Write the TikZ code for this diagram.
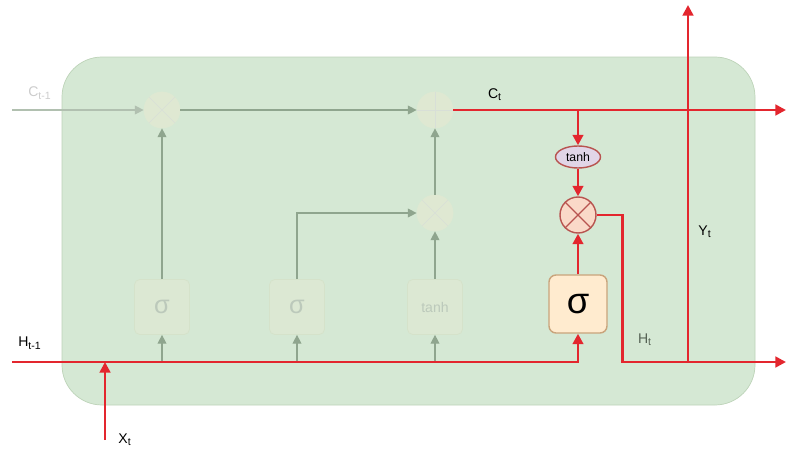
\documentclass[tikz,border=0pt]{standalone}
\usepackage{fontspec}
\setmainfont{Liberation Sans}
\usetikzlibrary{arrows.meta,shapes.geometric}

\definecolor{cellgreen}{HTML}{D5E8D4}
\definecolor{cellborder}{HTML}{BDD3B8}
\definecolor{lstmred}{HTML}{E3262E}
\definecolor{fadeline}{HTML}{8FA58E}
\definecolor{fadefill}{HTML}{DFE8D2}
\definecolor{opfill}{HTML}{FAD9C8}
\definecolor{opborder}{HTML}{B85450}
\definecolor{gatefill}{HTML}{FFEBCF}
\definecolor{gateborder}{HTML}{C9A47C}
\definecolor{tanhfill}{HTML}{E1D5E7}

\begin{document}
\begin{tikzpicture}[
  redline/.style={draw=lstmred, line width=1.6pt},
  redarrow/.style={redline, -{Triangle[length=6pt,width=6pt]}},
  fadearrow/.style={draw=fadeline, line width=0.7pt, -{Triangle[length=5pt,width=5pt]}},
  fadeop/.style={circle, minimum size=0.72cm, inner sep=0pt, draw=fadefill, fill=fadefill},
  fadegate/.style={rectangle, rounded corners=3pt, minimum size=1.1cm, draw=fadefill!70!cellborder, fill=fadefill!70!cellgreen, text=fadeline!60},
  outop/.style={circle, minimum size=0.72cm, inner sep=0pt, draw=opborder, line width=0.8pt, fill=opfill},
  lbl/.style={font=\footnotesize, inner sep=1pt}
]
\useasboundingbox (0,0) rectangle (15.72,9.4);
% cell body
\draw[fill=cellgreen, draw=cellborder, rounded corners=0.8cm] (1.24,1.3) rectangle (15.1,8.26);

% end points of the outer lines
\coordinate (cin) at (0.24,7.2);
\coordinate (cout) at (15.72,7.2);
\coordinate (hin) at (0.24,2.16);
\coordinate (hout) at (15.72,2.16);
\coordinate (xin) at (2.1,0.6);
\coordinate (yb) at (13.76,2.16);
\coordinate (ytop) at (13.76,9.3);

% faded part of the cell
\node[fadeop] (m1) at (3.24,7.2) {};
\node[fadeop] (add) at (8.7,7.2) {};
\node[fadeop] (m2) at (8.7,5.14) {};
\node[fadegate, font=\Large] (g1) at (3.24,3.26) {σ};
\node[fadegate, font=\Large] (g2) at (5.94,3.26) {σ};
\node[fadegate, font=\footnotesize] (g3) at (8.7,3.26) {tanh};
\draw[fadeline!35] (m1.45) -- (m1.225) (m1.135) -- (m1.315);
\draw[fadeline!35] (m2.45) -- (m2.225) (m2.135) -- (m2.315);
\draw[fadeline!35] (add.north) -- (add.south) (add.west) -- (add.east);

\draw[fadearrow, draw=fadeline!70] (cin) -- (m1);
\draw[fadearrow] (m1) -- (add);
\draw[fadearrow] (g1 |- hin) -- (g1);
\draw[fadearrow] (g2 |- hin) -- (g2);
\draw[fadearrow] (g3 |- hin) -- (g3);
\draw[fadearrow] (g1) -- (m1);
\draw[fadearrow] (g2) |- (m2);
\draw[fadearrow] (g3) -- (m2);
\draw[fadearrow] (m2) -- (add);

% output gate
\node[ellipse, draw=opborder, line width=0.8pt, fill=tanhfill, inner sep=1pt, minimum width=0.9cm, minimum height=0.44cm, font=\scriptsize] (th) at (11.56,6.26) {tanh};
\node[outop] (mo) at (11.56,5.1) {};
\draw[opborder, line width=0.8pt] (mo.45) -- (mo.225) (mo.135) -- (mo.315);
\node[rectangle, rounded corners=4pt, minimum size=1.16cm, draw=gateborder, line width=0.8pt, fill=gatefill, font=\huge] (so) at (11.56,3.32) {σ};

\draw[redarrow] (add.east) -- (cout);
\draw[redarrow] (th |- add) -- (th);
\draw[redarrow] (th) -- (mo);
\draw[redarrow] (so) -- (mo);
\draw[redarrow] (hin) -| (so);
\draw[redarrow] (xin) -- (xin |- hin);
\draw[redarrow] (mo.east) -- ++(0.52,0) |- (hout);
\draw[redarrow] (yb) -- (ytop);

% labels
\node[lbl, text=black!20] (lc0) at (0.8,7.54) {C\textsubscript{t-1}};
\node[lbl] (lc) at (9.9,7.5) {C\textsubscript{t}};
\node[lbl] (lh0) at (0.6,2.54) {H\textsubscript{t-1}};
\node[lbl] (lx) at (2.5,0.6) {X\textsubscript{t}};
\node[lbl, text=fadeline!60!black] (lh) at (12.9,2.6) {H\textsubscript{t}};
\node[lbl] (ly) at (14.1,4.76) {Y\textsubscript{t}};
\end{tikzpicture}
\end{document}
